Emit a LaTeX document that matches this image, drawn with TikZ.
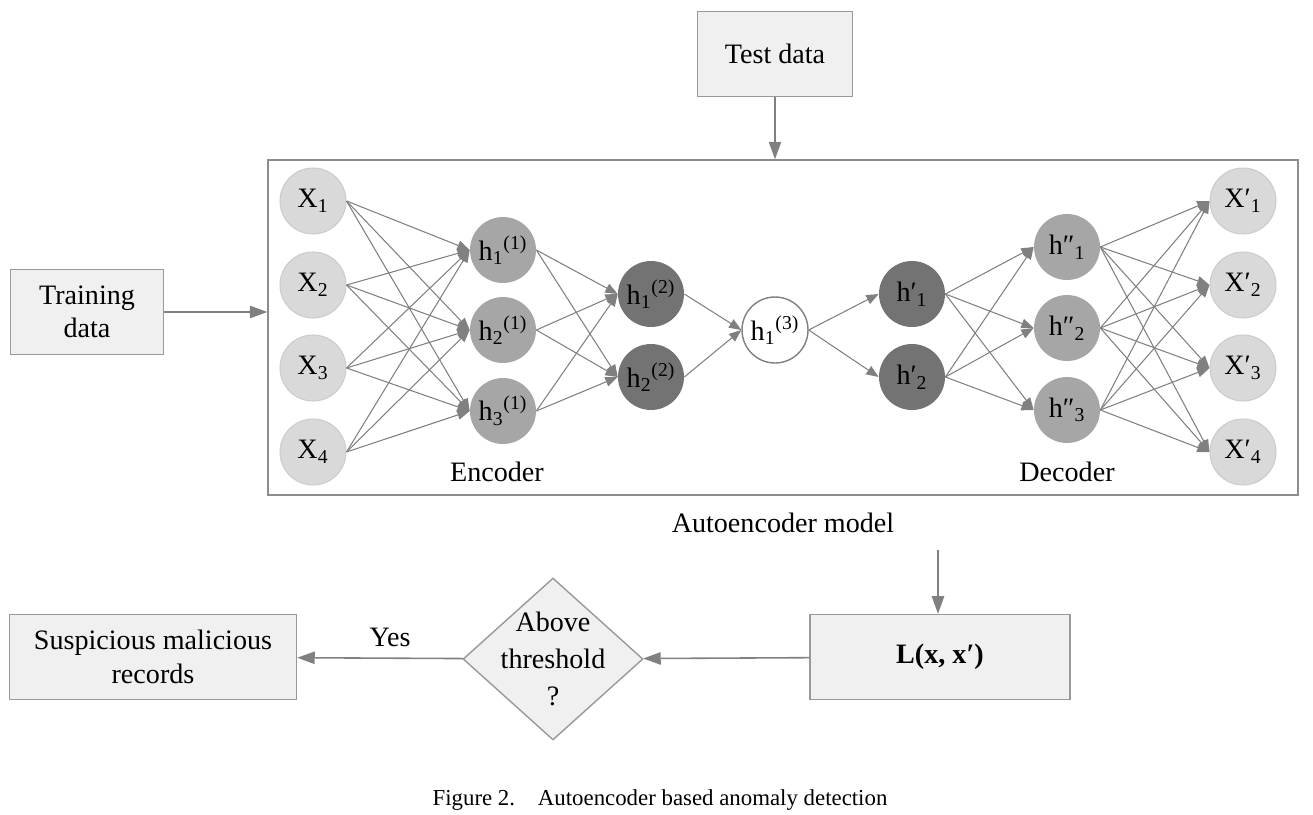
\documentclass[tikz,border=0pt]{standalone}
\usepackage{fontspec}
\setmainfont{Liberation Serif}
\usetikzlibrary{arrows.meta,positioning,shapes.geometric}

\begin{document}
\begin{tikzpicture}[
  x=0.02cm, y=-0.02cm,
  font=\fontsize{16}{19}\selectfont, >={Triangle[length=10pt,width=7pt]},
  box/.style={draw=black!40, line width=0.8pt, fill=black!6, align=center,
              minimum height=1.7cm, inner sep=3pt},
  neu/.style={circle, minimum size=1.32cm, inner sep=0pt},
  inp/.style={neu, fill=black!15, draw=black!20, line width=0.6pt},
  mid/.style={neu, fill=black!35},
  deep/.style={neu, fill=black!55},
  code/.style={neu, fill=white, draw=black!50, line width=0.8pt},
  w/.style={-{Triangle[length=7pt,width=5.5pt]}, draw=black!50, line width=0.6pt},
  a/.style={->, draw=black!50, line width=0.9pt},
]
\useasboundingbox (0,0) rectangle (1313,815);

% autoencoder frame
\node[draw=black!45, line width=0.8pt, minimum width=20.6cm, minimum height=6.7cm,
      inner sep=0pt] (ae) at (783,327.5) {};

% encoder layers
\foreach \i/\pos in {1/201,2/285,3/368,4/452}
  \node[inp] (x\i) at (313,\pos) {X\textsubscript{\i}};
\foreach \i/\pos in {1/250,2/330,3/411}
  \node[mid] (ha\i) at (503,\pos) {h\textsubscript{\i}\textsuperscript{(1)}};
\foreach \i/\pos in {1/294,2/377}
  \node[deep] (hb\i) at (651,\pos) {h\textsubscript{\i}\textsuperscript{(2)}};
\node[code] (hc) at (775,330) {h\textsubscript{1}\textsuperscript{(3)}};

% decoder layers
\foreach \i/\pos in {1/294,2/377}
  \node[deep] (hd\i) at (912,\pos) {h′\textsubscript{\i}};
\foreach \i/\pos in {1/247,2/328,3/410}
  \node[mid] (he\i) at (1067,\pos) {h″\textsubscript{\i}};
\foreach \i/\pos in {1/201,2/285,3/368,4/452}
  \node[inp] (xr\i) at (1243,\pos) {X′\textsubscript{\i}};

% weights
\foreach \i in {1,...,4}
  \foreach \j in {1,2,3}
    \draw[w] (x\i.east) -- (ha\j.west);
\foreach \i in {1,2,3}
  \foreach \j in {1,2}
    \draw[w] (ha\i.east) -- (hb\j.west);
\foreach \i in {1,2} {
  \draw[w] (hb\i.east) -- (hc.west);
  \draw[w] (hc.east) -- (hd\i.west);
}
\foreach \i in {1,2}
  \foreach \j in {1,2,3}
    \draw[w] (hd\i.east) -- (he\j.west);
\foreach \i in {1,2,3}
  \foreach \j in {1,...,4}
    \draw[w] (he\i.east) -- (xr\j.west);

\node (enc) at (497,472) {Encoder};
\node (dec) at (1067,472) {Decoder};
\node (aelbl) at (783,523) {Autoencoder model};

% data in
\node[box, minimum width=3.1cm] (test) at (775,54) {Test data};
\node[box, minimum width=3.06cm] (train) at (87,312) {Training\\data};
\draw[a] (test) -- (test |- ae.north);
\draw[a] (train) -- (train -| ae.west);

% detection
\node[box, minimum width=5.2cm] (loss) at (940,657) {\textbf{L(x, x′)}};
\node[diamond, aspect=1.1, draw=black!40, fill=black!6, line width=0.8pt, align=center,
      font=\fontsize{16}{21}\selectfont, minimum width=3.6cm, minimum height=3.24cm,
      inner sep=-4pt] (thr) at (553,659) {Above\\threshold\\?};
\node[box, minimum width=5.74cm] (susp) at (153,657) {Suspicious malicious\\records};
\coordinate (lin) at (938,550);
\draw[a] (lin) -- (lin |- loss.north);
\draw[a] (loss) -- (thr);
\draw[a] (thr) -- (susp);
\node (yes) at (390,637) {Yes};

\node[font=\fontsize{13}{15}\selectfont] (cap) at (660,800)
  {Figure 2.\quad Autoencoder based anomaly detection};
\end{tikzpicture}
\end{document}
